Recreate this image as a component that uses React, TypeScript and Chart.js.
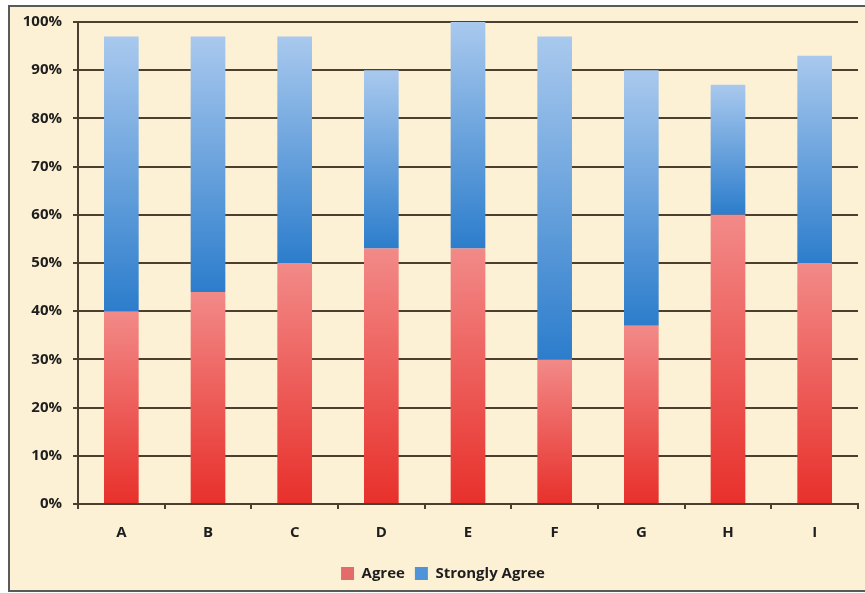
import React, { useEffect, useRef } from "react";
import { Chart, registerables } from "chart.js";

Chart.register(...registerables);

const categories = ["A", "B", "C", "D", "E", "F", "G", "H", "I"];
const agree = [40, 44, 50, 53, 53, 30, 37, 60, 50];
const stronglyAgree = [57, 53, 47, 37, 47, 67, 53, 27, 43];
const seriesNames = ["Agree", "Strongly Agree"];
const legendColors = ["#e56b6b", "#4f93d9"];

const FONT = "'Open Sans', 'Liberation Sans', sans-serif";
const GRID = "#4d3e2f";
const TEXT = "#1e1e1e";

function segmentFill(ctx: any, isTop: boolean, bottomColor: string, topColor: string, legendColor: string) {
  const chart = ctx.chart;
  const area = chart.chartArea;
  if (!area || ctx.type !== "data" || !chart.scales.y) return legendColor;
  const i = ctx.dataIndex;
  const base = isTop ? agree[i] : 0;
  const top = isTop ? agree[i] + stronglyAgree[i] : agree[i];
  const y0 = chart.scales.y.getPixelForValue(base);
  const y1 = chart.scales.y.getPixelForValue(top);
  if (!isFinite(y0) || !isFinite(y1) || y0 === y1) return legendColor;
  const g = chart.ctx.createLinearGradient(0, y0, 0, y1);
  g.addColorStop(0, bottomColor);
  g.addColorStop(1, topColor);
  return g;
}

const backgroundPlugin = {
  id: "paperBackground",
  afterLayout(chart: any) {
    if (chart.legend) {
      chart.legend.left += 14;
      chart.legend.right += 14;
    }
  },
  beforeDraw(chart: any) {
    const c = chart.ctx;
    c.save();
    c.fillStyle = "#ffffff";
    c.fillRect(0, 0, chart.width, chart.height);
    c.fillStyle = "#fcf0d5";
    c.fillRect(8, 5, chart.width - 8, chart.height - 6);
    c.strokeStyle = "#5a5a5a";
    c.lineWidth = 2;
    c.strokeRect(9, 6, chart.width, chart.height - 8);
    c.restore();
  },
};

export default function App() {
  const ref = useRef<HTMLCanvasElement>(null);

  useEffect(() => {
    document.body.style.margin = "0";
    if (!ref.current) return;
    const chart = new Chart(ref.current, {
      type: "bar",
      data: {
        labels: categories,
        datasets: [
          {
            label: seriesNames[0],
            data: agree,
            backgroundColor: (ctx: any) => segmentFill(ctx, false, "#e8302b", "#f28a88", legendColors[0]),
            borderWidth: 0,
          },
          {
            label: seriesNames[1],
            data: stronglyAgree,
            backgroundColor: (ctx: any) => segmentFill(ctx, true, "#2c7dcc", "#a9c9ee", legendColors[1]),
            borderWidth: 0,
          },
        ],
      },
      options: {
        responsive: false,
        animation: false,
        devicePixelRatio: 1,
        layout: { padding: { top: 22, right: 7, bottom: 2, left: 0 } },
        datasets: { bar: { categoryPercentage: 1, barPercentage: 0.4 } },
        plugins: {
          legend: {
            position: "bottom",
            labels: {
              boxWidth: 13,
              boxHeight: 13,
              padding: 10,
              color: TEXT,
              font: { family: FONT, size: 15, weight: "bold" },
              generateLabels: (chart: any) =>
                chart.data.datasets.map((ds: any, i: number) => ({
                  text: ds.label,
                  fillStyle: legendColors[i],
                  strokeStyle: legendColors[i],
                  lineWidth: 0,
                  fontColor: TEXT,
                  hidden: false,
                  datasetIndex: i,
                })),
            },
          },
          tooltip: { enabled: false },
        },
        scales: {
          x: {
            stacked: true,
            afterFit: (s: any) => { s.height = 52; },
            grid: { drawOnChartArea: false, drawTicks: true, tickLength: 5, color: GRID, lineWidth: 2 },
            border: { display: true, color: GRID, width: 2 },
            ticks: { color: TEXT, padding: 15, font: { family: FONT, size: 15, weight: "bold" } },
          },
          y: {
            stacked: true,
            min: 0,
            max: 100,
            afterFit: (s: any) => { s.width = 78; },
            grid: { color: GRID, lineWidth: 2, tickLength: 5 },
            border: { display: true, color: GRID, width: 2 },
            ticks: {
              stepSize: 10,
              padding: 11,
              color: TEXT,
              font: { family: FONT, size: 15, weight: "bold" },
              callback: (v: any) => v + "%",
            },
          },
        },
      },
      plugins: [backgroundPlugin],
    } as any);
    return () => chart.destroy();
  }, []);

  return <canvas ref={ref} width={865} height={593} style={{ display: "block" }} />;
}
